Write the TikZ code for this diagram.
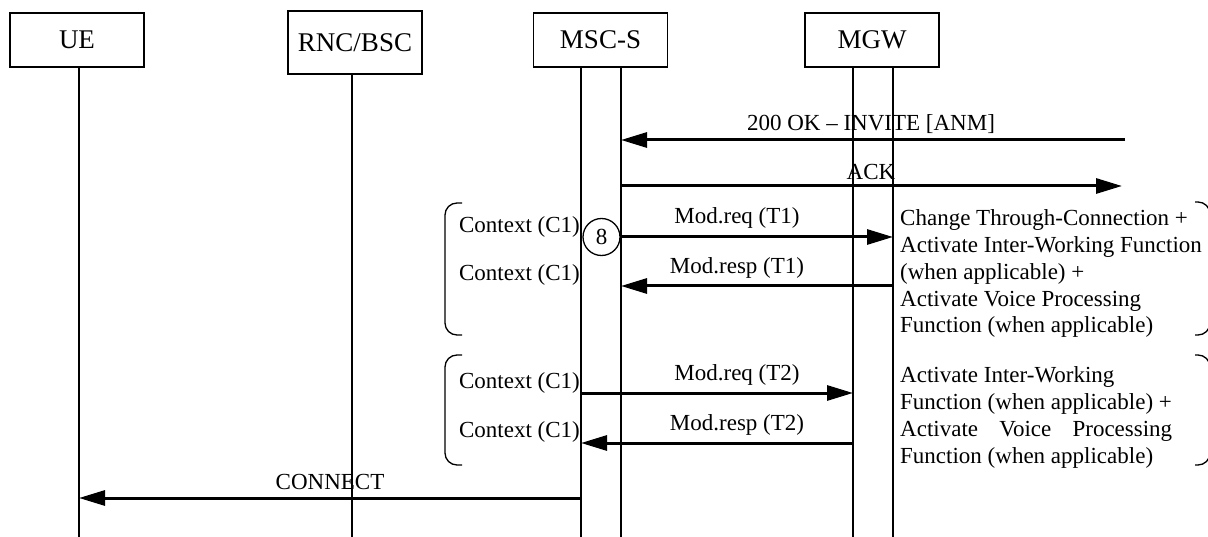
\documentclass[tikz,border=0pt]{standalone}
\usepackage{fontspec}
\setmainfont{Liberation Serif}
\usetikzlibrary{arrows.meta}
\begin{document}
\begin{tikzpicture}[x=1pt,y=-1pt,
  hdr/.style={draw, line width=1.3pt, minimum width=134pt, minimum height=54pt, inner sep=0pt, font=\fontsize{27}{30}\selectfont},
  life/.style={line width=1.3pt},
  msg/.style={line width=3pt, -{Triangle[length=26pt,width=15pt]}},
  lbl/.style={font=\fontsize{23}{26.7}\selectfont, inner sep=0pt},
  brk/.style={line width=1.3pt, rounded corners=12pt},
  blk/.style={font=\fontsize{23}{26.7}\selectfont, inner sep=0pt, anchor=base west},
]
\useasboundingbox (0,0) rectangle (1208,537);

% header boxes
\node[hdr] (ue)  at (77,40)    {UE};
\node[hdr, minimum height=63pt] (rnc) at (355,42.5) {RNC/BSC};
\node[hdr] (msc) at (600.5,40) {MSC-S};
\node[hdr] (mgw) at (872,40)   {MGW};

% lifelines
\coordinate (ueT) at (79,67);    \coordinate (ueB) at (79,537);
\coordinate (rncT) at (352,74);  \coordinate (rncB) at (352,537);
\coordinate (mscLT) at (581,67); \coordinate (mscLB) at (581,537);
\coordinate (mscRT) at (621,67); \coordinate (mscRB) at (621,537);
\coordinate (mgwLT) at (853,67); \coordinate (mgwLB) at (853,537);
\coordinate (mgwRT) at (893,67); \coordinate (mgwRB) at (893,537);
\draw[life] (ueT) -- (ueB);
\draw[life] (rncT) -- (rncB);
\draw[life] (mscLT) -- (mscLB);
\draw[life] (mscRT) -- (mscRB);
\draw[life] (mgwLT) -- (mgwLB);
\draw[life] (mgwRT) -- (mgwRB);

% 200 OK
\coordinate (okA) at (1125,140); \coordinate (okB) at (621,140);
\draw[msg] (okA) -- (okB);
\node[lbl] (okL) at (871,124) {200 OK – INVITE [ANM]};

% ACK
\coordinate (ackA) at (621,186); \coordinate (ackB) at (1122,186);
\draw[msg] (ackA) -- (ackB);
\node[lbl] (ackL) at (871,172) {ACK};

% circle 8
\node[draw, circle, line width=1.3pt, minimum size=37pt, lbl] (c8) at (601.5,237) {8};

% Mod.req T1
\coordinate (r1B) at (893,237);
\draw[msg] (c8.east) -- (r1B);
\node[lbl] (r1L) at (737,218) {Mod.req (T1)};

% Mod.resp T1
\coordinate (p1A) at (893,286); \coordinate (p1B) at (621,286);
\draw[msg] (p1A) -- (p1B);
\node[lbl] (p1L) at (737,268) {Mod.resp (T1)};

% Mod.req T2
\coordinate (r2A) at (581,393); \coordinate (r2B) at (853,393);
\draw[msg] (r2A) -- (r2B);
\node[lbl] (r2L) at (737,375) {Mod.req (T2)};

% Mod.resp T2
\coordinate (p2A) at (853,443); \coordinate (p2B) at (581,443);
\draw[msg] (p2A) -- (p2B);
\node[lbl] (p2L) at (737,425) {Mod.resp (T2)};

% CONNECT
\coordinate (cnA) at (581,498); \coordinate (cnB) at (79,498);
\draw[msg] (cnA) -- (cnB);
\node[lbl] (cnL) at (330,482) {CONNECT};

% Context labels
\node[lbl, anchor=east] (cx1) at (580,227) {Context (C1)};
\node[lbl, anchor=east] (cx2) at (580,275) {Context (C1)};
\node[lbl, anchor=east] (cx3) at (580,383) {Context (C1)};
\node[lbl, anchor=east] (cx4) at (580,432) {Context (C1)};

% left brackets
\draw[brk] (462,203) -- (445,203) -- (445,335) -- (462,335);
\draw[brk] (462,355) -- (445,355) -- (445,465) -- (462,465);

% right brackets (vertical part lies just beyond the picture edge)
\draw[brk] (1195,202) -- (1210,202) -- (1210,335) -- (1195,335);
\draw[brk] (1195,355) -- (1210,355) -- (1210,465) -- (1195,465);

% text blocks
\node[blk] (tb1) at (900,226) {\begin{tabular}[t]{@{}l@{}}
Change Through-Connection +\\
Activate Inter-Working Function\\
(when applicable) +\\
Activate Voice Processing\\
Function (when applicable)
\end{tabular}};
\node[blk] (tb2) at (900,383) {\begin{tabular}[t]{@{}l@{}}
Activate Inter-Working\\
Function (when applicable) +\\
\makebox[272pt][s]{Activate\hfill Voice\hfill Processing}\\
Function (when applicable)
\end{tabular}};
\end{tikzpicture}
\end{document}
